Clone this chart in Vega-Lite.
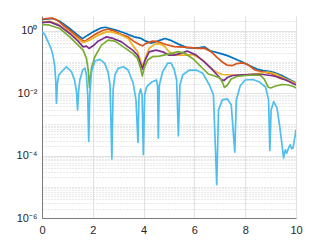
{
  "$schema": "https://vega.github.io/schema/vega-lite/v6.json",
  "width": 254,
  "height": 202,
  "autosize": {"type": "none"},
  "padding": {"left": 42, "top": 16, "right": 31, "bottom": 27},
  "background": "white",
  "config": {
    "view": {"stroke": null},
    "font": "Liberation Sans",
    "axis": {"labelFont": "Liberation Sans", "labelFontSize": 11, "labelColor": "#262626", "domainColor": "#7a7a7a", "domainWidth": 1, "ticks": false, "title": null}
  },
  "data": {"values": [
    {"s":"a","x":0,"y":2.28},{"s":"a","x":0.2,"y":2.42},{"s":"a","x":0.43,"y":2.49},{"s":"a","x":0.7,"y":2.04},{"s":"a","x":1.09,"y":1.19},{"s":"a","x":1.36,"y":0.785},{"s":"a","x":1.59,"y":0.563},{"s":"a","x":1.8,"y":0.729},{"s":"a","x":2.01,"y":0.929},{"s":"a","x":2.34,"y":1.25},{"s":"a","x":2.5,"y":1.31},{"s":"a","x":2.94,"y":1.05},{"s":"a","x":3.3,"y":0.826},{"s":"a","x":3.63,"y":0.643},{"s":"a","x":3.9,"y":0.572},{"s":"a","x":4.09,"y":0.469},{"s":"a","x":4.29,"y":0.405},{"s":"a","x":4.55,"y":0.469},{"s":"a","x":4.84,"y":0.572},{"s":"a","x":5.1,"y":0.486},{"s":"a","x":5.37,"y":0.376},{"s":"a","x":5.7,"y":0.29},{"s":"a","x":5.96,"y":0.28},{"s":"a","x":6.2,"y":0.29},{"s":"a","x":6.4,"y":0.308},{"s":"a","x":6.62,"y":0.23},{"s":"a","x":7.01,"y":0.19},{"s":"a","x":7.3,"y":0.161},{"s":"a","x":7.61,"y":0.125},{"s":"a","x":7.93,"y":0.0964},{"s":"a","x":8.2,"y":0.0745},{"s":"a","x":8.46,"y":0.0597},{"s":"a","x":8.7,"y":0.0535},{"s":"a","x":9.0,"y":0.0497},{"s":"a","x":9.2,"y":0.0445},{"s":"a","x":9.4,"y":0.0385},{"s":"a","x":9.7,"y":0.0286},{"s":"a","x":10,"y":0.0213},
    {"s":"b","x":0,"y":2.36},{"s":"b","x":0.17,"y":2.49},{"s":"b","x":0.4,"y":2.56},{"s":"b","x":0.57,"y":2.28},{"s":"b","x":0.83,"y":1.52},{"s":"b","x":1.09,"y":1.05},{"s":"b","x":1.36,"y":0.692},{"s":"b","x":1.55,"y":0.505},{"s":"b","x":1.69,"y":0.469},{"s":"b","x":1.88,"y":0.597},{"s":"b","x":2.15,"y":0.826},{"s":"b","x":2.41,"y":1.05},{"s":"b","x":2.6,"y":1.13},{"s":"b","x":2.87,"y":0.978},{"s":"b","x":3.13,"y":0.767},{"s":"b","x":3.39,"y":0.643},{"s":"b","x":3.6,"y":0.469},{"s":"b","x":3.83,"y":0.367},{"s":"b","x":3.96,"y":0.332},{"s":"b","x":4.09,"y":0.396},{"s":"b","x":4.36,"y":0.469},{"s":"b","x":4.55,"y":0.452},{"s":"b","x":4.88,"y":0.367},{"s":"b","x":5.21,"y":0.313},{"s":"b","x":5.6,"y":0.302},{"s":"b","x":5.87,"y":0.29},{"s":"b","x":6.13,"y":0.274},{"s":"b","x":6.39,"y":0.28},{"s":"b","x":6.66,"y":0.216},{"s":"b","x":6.88,"y":0.144},{"s":"b","x":7.1,"y":0.1},{"s":"b","x":7.28,"y":0.0802},{"s":"b","x":7.5,"y":0.0773},{"s":"b","x":7.67,"y":0.0895},{"s":"b","x":7.9,"y":0.0942},{"s":"b","x":8.1,"y":0.0832},{"s":"b","x":8.39,"y":0.0555},{"s":"b","x":8.7,"y":0.048},{"s":"b","x":9.0,"y":0.0435},{"s":"b","x":9.38,"y":0.03},{"s":"b","x":9.7,"y":0.0256},{"s":"b","x":10,"y":0.0197},
    {"s":"c","x":0,"y":1.94},{"s":"c","x":0.3,"y":2.04},{"s":"c","x":0.57,"y":1.72},{"s":"c","x":0.96,"y":1.05},{"s":"c","x":1.36,"y":0.597},{"s":"c","x":1.62,"y":0.426},{"s":"c","x":1.88,"y":0.505},{"s":"c","x":2.21,"y":0.729},{"s":"c","x":2.54,"y":0.929},{"s":"c","x":2.74,"y":0.929},{"s":"c","x":3.07,"y":0.767},{"s":"c","x":3.39,"y":0.572},{"s":"c","x":3.57,"y":0.349},{"s":"c","x":3.76,"y":0.213},{"s":"c","x":3.9,"y":0.102},{"s":"c","x":3.96,"y":0.0692},{"s":"c","x":4.06,"y":0.131},{"s":"c","x":4.22,"y":0.274},{"s":"c","x":4.42,"y":0.37},{"s":"c","x":4.62,"y":0.39},{"s":"c","x":4.81,"y":0.33},{"s":"c","x":5.0,"y":0.213},{"s":"c","x":5.28,"y":0.167},{"s":"c","x":5.6,"y":0.167},{"s":"c","x":5.93,"y":0.174},{"s":"c","x":6.33,"y":0.116},{"s":"c","x":6.66,"y":0.0629},{"s":"c","x":6.9,"y":0.0462},{"s":"c","x":7.1,"y":0.0399},{"s":"c","x":7.5,"y":0.0385},{"s":"c","x":8.0,"y":0.0385},{"s":"c","x":8.5,"y":0.0429},{"s":"c","x":8.9,"y":0.048},{"s":"c","x":9.2,"y":0.0414},{"s":"c","x":9.6,"y":0.0286},{"s":"c","x":10,"y":0.0206},
    {"s":"d","x":0,"y":1.85},{"s":"d","x":0.3,"y":1.94},{"s":"d","x":0.7,"y":1.445},{"s":"d","x":1.09,"y":0.826},{"s":"d","x":1.42,"y":0.469},{"s":"d","x":1.62,"y":0.308},{"s":"d","x":1.75,"y":0.324},{"s":"d","x":1.85,"y":0.274},{"s":"d","x":2.01,"y":0.332},{"s":"d","x":2.21,"y":0.469},{"s":"d","x":2.54,"y":0.643},{"s":"d","x":2.8,"y":0.572},{"s":"d","x":3.13,"y":0.445},{"s":"d","x":3.39,"y":0.308},{"s":"d","x":3.57,"y":0.242},{"s":"d","x":3.76,"y":0.167},{"s":"d","x":3.9,"y":0.0802},{"s":"d","x":3.96,"y":0.0597},{"s":"d","x":4.06,"y":0.116},{"s":"d","x":4.22,"y":0.213},{"s":"d","x":4.49,"y":0.242},{"s":"d","x":4.75,"y":0.213},{"s":"d","x":5.0,"y":0.167},{"s":"d","x":5.2,"y":0.167},{"s":"d","x":5.46,"y":0.19},{"s":"d","x":5.72,"y":0.225},{"s":"d","x":6.07,"y":0.167},{"s":"d","x":6.39,"y":0.102},{"s":"d","x":6.66,"y":0.0629},{"s":"d","x":6.9,"y":0.0385},{"s":"d","x":7.05,"y":0.0276},{"s":"d","x":7.16,"y":0.0256},{"s":"d","x":7.3,"y":0.032},{"s":"d","x":7.5,"y":0.0371},{"s":"d","x":7.9,"y":0.039},{"s":"d","x":8.3,"y":0.0404},{"s":"d","x":8.7,"y":0.0399},{"s":"d","x":9.0,"y":0.0371},{"s":"d","x":9.3,"y":0.0332},{"s":"d","x":9.6,"y":0.0266},{"s":"d","x":10,"y":0.0184},
    {"s":"e","x":0,"y":1.6},{"s":"e","x":0.3,"y":1.52},{"s":"e","x":0.7,"y":1.19},{"s":"e","x":1.09,"y":0.643},{"s":"e","x":1.42,"y":0.349},{"s":"e","x":1.62,"y":0.242},{"s":"e","x":1.75,"y":0.131},{"s":"e","x":1.82,"y":0.0555},{"s":"e","x":1.87,"y":0.015},{"s":"e","x":1.9,"y":0.0308},{"s":"e","x":1.95,"y":0.0643},{"s":"e","x":2.08,"y":0.148},{"s":"e","x":2.34,"y":0.349},{"s":"e","x":2.6,"y":0.505},{"s":"e","x":2.87,"y":0.469},{"s":"e","x":3.2,"y":0.308},{"s":"e","x":3.39,"y":0.242},{"s":"e","x":3.6,"y":0.18},{"s":"e","x":3.76,"y":0.131},{"s":"e","x":3.88,"y":0.0643},{"s":"e","x":3.95,"y":0.0357},{"s":"e","x":4.02,"y":0.0643},{"s":"e","x":4.16,"y":0.116},{"s":"e","x":4.36,"y":0.15},{"s":"e","x":4.62,"y":0.155},{"s":"e","x":4.88,"y":0.174},{"s":"e","x":5.15,"y":0.194},{"s":"e","x":5.35,"y":0.216},{"s":"e","x":5.6,"y":0.194},{"s":"e","x":5.93,"y":0.131},{"s":"e","x":6.26,"y":0.0708},{"s":"e","x":6.55,"y":0.0414},{"s":"e","x":6.8,"y":0.0357},{"s":"e","x":7.0,"y":0.0308},{"s":"e","x":7.1,"y":0.023},{"s":"e","x":7.18,"y":0.0153},{"s":"e","x":7.3,"y":0.0184},{"s":"e","x":7.45,"y":0.0286},{"s":"e","x":7.67,"y":0.0344},{"s":"e","x":8.0,"y":0.0371},{"s":"e","x":8.3,"y":0.0385},{"s":"e","x":8.6,"y":0.0371},{"s":"e","x":8.75,"y":0.0286},{"s":"e","x":8.9,"y":0.0159},{"s":"e","x":9.0,"y":0.0148},{"s":"e","x":9.2,"y":0.0171},{"s":"e","x":9.45,"y":0.0191},{"s":"e","x":9.7,"y":0.0184},{"s":"e","x":9.9,"y":0.0165},{"s":"e","x":10,"y":0.0148},
    {"s":"f","x":0,"y":0.929},{"s":"f","x":0.1,"y":0.785},{"s":"f","x":0.24,"y":0.445},{"s":"f","x":0.35,"y":0.28},{"s":"f","x":0.43,"y":0.167},{"s":"f","x":0.5,"y":0.0745},{"s":"f","x":0.54,"y":0.0266},{"s":"f","x":0.57,"y":0.0048},{"s":"f","x":0.6,"y":0.0184},{"s":"f","x":0.66,"y":0.0385},{"s":"f","x":0.77,"y":0.049},{"s":"f","x":0.96,"y":0.0708},{"s":"f","x":1.16,"y":0.049},{"s":"f","x":1.28,"y":0.0266},{"s":"f","x":1.36,"y":0.011},{"s":"f","x":1.4,"y":0.00292},{"s":"f","x":1.44,"y":0.011},{"s":"f","x":1.49,"y":0.0266},{"s":"f","x":1.6,"y":0.0555},{"s":"f","x":1.69,"y":0.0643},{"s":"f","x":1.75,"y":0.0385},{"s":"f","x":1.8,"y":0.00883},{"s":"f","x":1.84,"y":0.000284},{"s":"f","x":1.88,"y":0.00883},{"s":"f","x":1.95,"y":0.048},{"s":"f","x":2.08,"y":0.108},{"s":"f","x":2.28,"y":0.122},{"s":"f","x":2.47,"y":0.0908},{"s":"f","x":2.6,"y":0.048},{"s":"f","x":2.68,"y":0.0184},{"s":"f","x":2.75,"y":0.0000778},{"s":"f","x":2.8,"y":0.01275},{"s":"f","x":2.87,"y":0.0385},{"s":"f","x":3.0,"y":0.0629},{"s":"f","x":3.2,"y":0.0708},{"s":"f","x":3.39,"y":0.0555},{"s":"f","x":3.59,"y":0.0209},{"s":"f","x":3.7,"y":0.00611},{"s":"f","x":3.78,"y":0.000264},{"s":"f","x":3.82,"y":0.00883},{"s":"f","x":3.88,"y":0.0137},{"s":"f","x":3.94,"y":0.00883},{"s":"f","x":3.99,"y":0.000107},{"s":"f","x":4.04,"y":0.00883},{"s":"f","x":4.12,"y":0.0159},{"s":"f","x":4.32,"y":0.023},{"s":"f","x":4.51,"y":0.0266},{"s":"f","x":4.55,"y":0.0171},{"s":"f","x":4.58,"y":0.000365},{"s":"f","x":4.62,"y":0.0184},{"s":"f","x":4.75,"y":0.049},{"s":"f","x":4.95,"y":0.0929},{"s":"f","x":5.08,"y":0.0929},{"s":"f","x":5.2,"y":0.0597},{"s":"f","x":5.3,"y":0.0266},{"s":"f","x":5.37,"y":0.000432},{"s":"f","x":5.43,"y":0.0184},{"s":"f","x":5.54,"y":0.0385},{"s":"f","x":5.8,"y":0.0555},{"s":"f","x":6.07,"y":0.0555},{"s":"f","x":6.33,"y":0.0435},{"s":"f","x":6.59,"y":0.0184},{"s":"f","x":6.75,"y":0.00883},{"s":"f","x":6.88,"y":0.0000117},{"s":"f","x":6.95,"y":0.00292},{"s":"f","x":7.1,"y":0.00611},{"s":"f","x":7.3,"y":0.00658},{"s":"f","x":7.45,"y":0.00423},{"s":"f","x":7.59,"y":0.00013},{"s":"f","x":7.65,"y":0.00611},{"s":"f","x":7.8,"y":0.0171},{"s":"f","x":8.0,"y":0.0266},{"s":"f","x":8.3,"y":0.0276},{"s":"f","x":8.54,"y":0.0235},{"s":"f","x":8.8,"y":0.0159},{"s":"f","x":8.92,"y":0.00611},{"s":"f","x":8.97,"y":0.000147},{"s":"f","x":9.02,"y":0.00292},{"s":"f","x":9.12,"y":0.00539},{"s":"f","x":9.25,"y":0.00339},{"s":"f","x":9.35,"y":0.00097},{"s":"f","x":9.45,"y":0.000223},{"s":"f","x":9.51,"y":0.0000838},{"s":"f","x":9.58,"y":0.000154},{"s":"f","x":9.64,"y":0.000121},{"s":"f","x":9.71,"y":0.000179},{"s":"f","x":9.77,"y":0.000223},{"s":"f","x":9.83,"y":0.000166},{"s":"f","x":9.88,"y":0.000175},{"s":"f","x":9.95,"y":0.000373},{"s":"f","x":10,"y":0.000671}
  ]},
  "mark": {"type": "line", "strokeWidth": 1.7, "clip": true, "strokeJoin": "round"},
  "encoding": {
    "x": {"field": "x", "type": "quantitative",
      "scale": {"domain": [0, 10], "nice": false, "zero": false},
      "axis": {"values": [0, 2, 4, 6, 8, 10], "grid": true, "gridColor": "#e2e2e2", "labelPadding": 6, "labelFlush": false}},
    "y": {"field": "y", "type": "quantitative",
      "scale": {"type": "log", "domain": [0.000001, 3], "nice": false},
      "axis": {
        "values": [0.000001,0.000002,0.000003,0.000004,0.000005,0.000006,0.000007,0.000008,0.000009,0.00001,0.00002,0.00003,0.00004,0.00005,0.00006,0.00007,0.00008,0.00009,0.0001,0.0002,0.0003,0.0004,0.0005,0.0006,0.0007,0.0008,0.0009,0.001,0.002,0.003,0.004,0.005,0.006,0.007,0.008,0.009,0.01,0.02,0.03,0.04,0.05,0.06,0.07,0.08,0.09,0.1,0.2,0.3,0.4,0.5,0.6,0.7,0.8,0.9,1,2],
        "labelExpr": "datum.value === 1 ? '10⁰' : datum.value === 0.01 ? '10⁻²' : datum.value === 0.0001 ? '10⁻⁴' : datum.value === 0.000001 ? '10⁻⁶' : ''",
        "grid": true,
        "gridColor": {"condition": {"test": "datum.value === 1 || datum.value === 0.01 || datum.value === 0.0001 || datum.value === 0.000001", "value": "#e2e2e2"}, "value": "#d2d2d2"},
        "gridDash": {"condition": {"test": "datum.value === 1 || datum.value === 0.01 || datum.value === 0.0001 || datum.value === 0.000001", "value": []}, "value": [1, 2]},
        "labelPadding": 5, "labelFlush": false, "labelOverlap": false}},
    "color": {"field": "s", "type": "nominal", "legend": null,
      "scale": {"domain": ["a","b","c","d","e","f"], "range": ["#0072BD","#D95319","#EDB120","#7E2F8E","#77AC30","#4DBEEE"]}}
  }
}
